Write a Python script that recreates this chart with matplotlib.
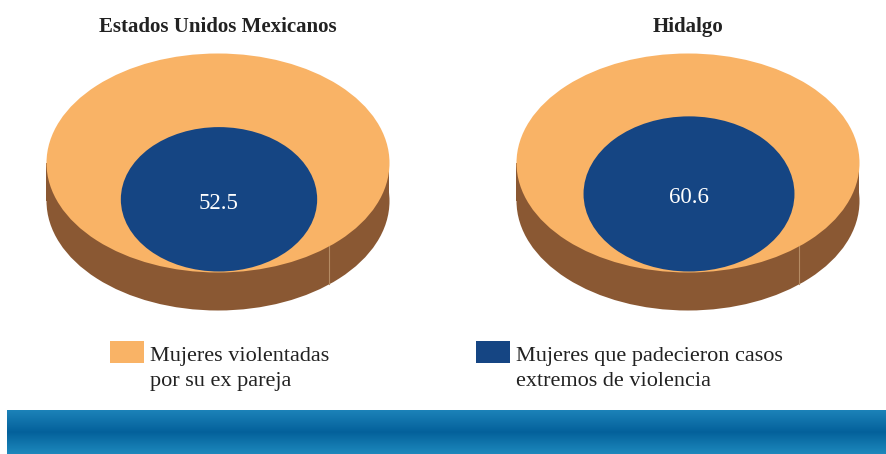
import numpy as np
import matplotlib
matplotlib.use('Agg')
from matplotlib import pyplot as plt
from matplotlib.patches import Ellipse, Rectangle
from matplotlib.colors import LinearSegmentedColormap

titles = ['Estados Unidos Mexicanos', 'Hidalgo']
values = [52.5, 60.6]
labels = ['52.5', '60.6']
legend_labels = ['Mujeres violentadas\npor su ex pareja',
                 'Mujeres que padecieron casos\nextremos de violencia']

orange = '#F9B366'
brown = '#8A5833'
blue = '#154583'
seam = '#B58B63'

fig = plt.figure(figsize=(8.86, 4.54), dpi=100)
ax = fig.add_axes([0, 0, 1, 1])
ax.set_xlim(0, 886)
ax.set_ylim(454, 0)
ax.axis('off')

serif = ['Liberation Serif', 'DejaVu Serif']

# disc geometry (pixels)
cxs = [218, 688]
cy, W, H, depth = 163, 343, 219, 38

for cx, title, v, lab in zip(cxs, titles, values, labels):
    # side of the disc
    ax.add_patch(Ellipse((cx, cy + depth), W, H, color=brown, lw=0))
    ax.add_patch(Rectangle((cx - W / 2, cy), W, depth, color=brown, lw=0))
    # seam of the slice
    sx = cx + 111
    t = np.sqrt(1 - ((sx - cx) / (W / 2)) ** 2) * H / 2
    ax.plot([sx, sx], [cy + t, cy + t + depth], color=seam, lw=0.8)
    # top
    ax.add_patch(Ellipse((cx, cy), W, H, color=orange, lw=0))
    # inner ellipse scaled by the value
    s = np.sqrt(v / 100)
    iw, ih = 0.79 * s * W, 0.91 * s * H
    icy = cy + H / 2 - ih / 2 - 1
    ax.add_patch(Ellipse((cx + 1, icy), iw, ih, color=blue, lw=0))
    ax.text(cx + 1, icy + 4, lab, color='white', fontsize=16.5, family=serif,
            ha='center', va='center')
    ax.text(cx, 27, title, fontsize=15, fontweight='bold', family=serif,
            ha='center', va='center', color='#222222')

# legend
for x, col, txt in zip([110, 476], [orange, blue], legend_labels):
    ax.add_patch(Rectangle((x, 341), 34, 22, color=col, lw=0))
    ax.text(x + 40, 347, txt, fontsize=16, family=serif, ha='left', va='top',
            color='#222222', linespacing=1.4)

# gradient band
cmap = LinearSegmentedColormap.from_list('band', ['#1C82B8', '#04619B', '#1D88BC'])
grad = np.linspace(0, 1, 100).reshape(-1, 1)
ax.imshow(grad, cmap=cmap, extent=[7, 886, 454, 410], aspect='auto')
ax.set_xlim(0, 886)
ax.set_ylim(454, 0)

fig.savefig('out.png', dpi=100)
